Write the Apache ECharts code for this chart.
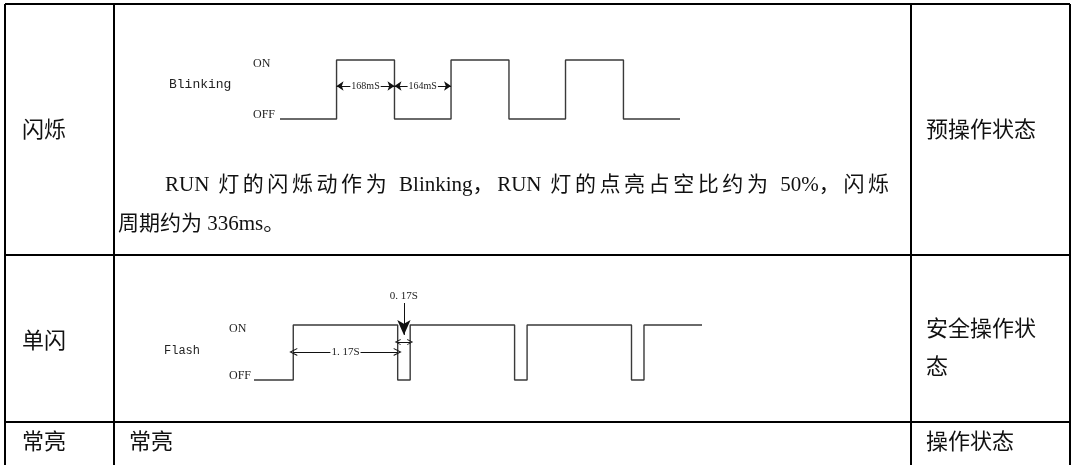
<!DOCTYPE html>
<html><head><meta charset="utf-8">
<script src="https://cdn.jsdelivr.net/npm/echarts@6/dist/echarts.min.js"></script>
<style>html,body{margin:0;padding:0;background:#fff}#c{width:1075px;height:465px}</style>
</head><body><div id="c"></div>
<script>
// ---- data ----
const rowLabels = ['闪烁', '单闪', '常亮'];
const stateLabels = ['预操作状态', '安全操作状\n态', '操作状态'];
const steadyText = '常亮';
const noteLines = ['RUN 灯的闪烁动作为 Blinking，RUN 灯的点亮占空比约为 50%，闪烁', '周期约为 336ms。'];
const levelLabels = ['OFF', 'ON'];
// Blinking waveform (ms): edges and state held between consecutive edges
const blinkEdges = [0, 164, 332, 496, 664, 828, 996, 1160];
const blinkStates = [0, 1, 0, 1, 0, 1, 0];
const blinkSpanFrom = [164, 332];
const blinkSpanTo = [332, 496];
const blinkSpanText = ['168mS', '164mS'];
const blinkSpanLevel = 0.56;
// Flash waveform (s)
const flashEdges = [0, 0.44, 1.61, 1.75, 2.92, 3.06, 4.23, 4.37, 5.02];
const flashStates = [0, 1, 0, 1, 0, 1, 0, 1];
const flashOnText = '1. 17S';
const flashOffText = '0. 17S';

function stepPoints(edges, states) {
  const pts = [];
  for (let i = 0; i < states.length; i++) {
    pts.push([edges[i], states[i]]);
    pts.push([edges[i + 1], states[i]]);
  }
  return pts;
}

const chev = 'path://M5,0 L10,10 L8.6,10 L5,2.8 L1.4,10 L0,10 Z';
const waveColor = '#3a3a3a';
const serif = "'Liberation Serif', 'Noto Sans CJK SC'";
const cellFont = "'Liberation Serif', 'Noto Sans CJK SC'";

// justify a line: extra space goes after CJK characters and spaces only
function isStretch(c) { return c === ' ' || c.charCodeAt(0) > 0x2e80; }
function justify(text, size, target) {
  const cv = document.createElement('canvas').getContext('2d');
  cv.font = 'normal normal ' + size + 'px ' + cellFont;
  const chars = Array.from(text);
  const w = cv.measureText(text).width;
  let n = 0;
  chars.forEach((c, i) => { if (i < chars.length - 1 && isStretch(c)) n++; });
  const extra = Math.max(0, (target - w) / Math.max(1, n));
  // group runs: stretched chars individually, others as runs
  let str = '', run = '';
  chars.forEach((c, i) => {
    if (i < chars.length - 1 && isStretch(c)) {
      if (run) { str += '{k|' + run + '}'; run = ''; }
      str += '{j|' + c + '}';
    } else run += c;
  });
  if (run) str += '{k|' + run + '}';
  return { str, extra };
}

const chart = echarts.init(document.getElementById('c'), null, { renderer: 'canvas' });

const j1 = justify(noteLines[0], 21, 724);

function levelAxis(grid, margin, max) {
  return {
    type: 'value', gridIndex: grid, min: 0, max: max, interval: 1,
    axisLine: { show: false }, axisTick: { show: false }, splitLine: { show: false },
    axisLabel: {
      align: 'left', margin: margin, color: '#222', fontFamily: serif, fontSize: 12,
      showMaxLabel: true,
      formatter: v => (v === 1 ? '{a|' + levelLabels[1] + '}' : (v === 0 ? '{b|' + levelLabels[0] + '}' : '')),
      rich: {
        a: { fontFamily: serif, fontSize: 12, color: '#222', padding: [8, 0, 0, 0] },
        b: { fontFamily: serif, fontSize: 12, color: '#222', padding: [0, 0, 8, 0] }
      }
    }
  };
}

const tableLines = [
  [5, 4, 1070, 4], [5, 4, 5, 465], [114, 4, 114, 465], [911, 4, 911, 465], [1070, 4, 1070, 465],
  [5, 255, 1070, 255], [5, 422, 1070, 422]
];
const graphics = tableLines.map(l => ({
  type: 'line', silent: true,
  shape: { x1: l[0], y1: l[1], x2: l[2], y2: l[3] },
  style: { stroke: '#000', lineWidth: 2 }
}));
const rowY = [131, 342, 443];
rowLabels.forEach((t, i) => graphics.push({
  type: 'text', left: 22, top: rowY[i] - 11,
  style: { text: t, font: 'normal 22px ' + cellFont, fill: '#111' }
}));
const stateTop = [131 - 11, 330 - 19, 443 - 11];
stateLabels.forEach((t, i) => graphics.push({
  type: 'text', left: 926, top: stateTop[i],
  style: t.indexOf('\n') >= 0
    ? { text: t, font: 'normal 22px ' + cellFont, fill: '#111', lineHeight: 38 }
    : { text: t, font: 'normal 22px ' + cellFont, fill: '#111' }
}));
graphics.push({ type: 'text', left: 129, top: 443 - 11, style: { text: steadyText, font: 'normal 22px ' + cellFont, fill: '#111' } });
graphics.push({ type: 'text', left: 169, top: 78, style: { text: 'Blinking', font: 'normal 13px "Liberation Mono"', fill: '#222' } });
graphics.push({ type: 'text', left: 164, top: 345, style: { text: 'Flash', font: 'normal 12px "Liberation Mono"', fill: '#222' } });
graphics.push({
  type: 'text', left: 165, top: 175,
  style: {
    text: j1.str, font: 'normal 21px ' + cellFont, fill: '#111',
    rich: {
      j: { fontSize: 21, fontFamily: cellFont, fill: '#111', padding: [0, j1.extra, 0, 0] },
      k: { fontSize: 21, fontFamily: cellFont, fill: '#111' }
    }
  }
});
graphics.push({ type: 'text', left: 118, top: 214, style: { text: noteLines[1], font: 'normal 21px ' + cellFont, fill: '#111' } });

const midLabel = { position: 'middle', verticalAlign: 'middle', distance: 0, backgroundColor: '#fff', padding: [0, 1] };

const option = {
  animation: false,
  backgroundColor: '#fff',
  grid: [
    { left: 280, top: 60, width: 400, height: 59 },
    { left: 254, top: 297.5, width: 448, height: 82.5 }
  ],
  xAxis: [
    { type: 'value', gridIndex: 0, min: 0, max: blinkEdges[blinkEdges.length - 1], show: false },
    { type: 'value', gridIndex: 1, min: 0, max: flashEdges[flashEdges.length - 1], show: false }
  ],
  yAxis: [levelAxis(0, 27, 1), levelAxis(1, 25, 1.5)],
  graphic: graphics,
  series: [
    {
      type: 'line', xAxisIndex: 0, yAxisIndex: 0, clip: false, symbol: 'none',
      data: stepPoints(blinkEdges, blinkStates),
      lineStyle: { color: waveColor, width: 1.4 },
      markLine: {
        silent: true, animation: false,
        symbol: ['arrow', 'arrow'], symbolSize: 7,
        lineStyle: { color: '#111', width: 1, type: 'solid' },
        label: Object.assign({ show: true, fontFamily: serif, fontSize: 10, color: '#222' }, midLabel),
        data: blinkSpanFrom.map((f, i) => [
          { coord: [f, blinkSpanLevel], label: { formatter: blinkSpanText[i] } },
          { coord: [blinkSpanTo[i], blinkSpanLevel] }
        ])
      }
    },
    {
      type: 'line', xAxisIndex: 1, yAxisIndex: 1, clip: false, symbol: 'none',
      data: stepPoints(flashEdges, flashStates),
      lineStyle: { color: waveColor, width: 1.4 },
      markLine: {
        silent: true, animation: false,
        lineStyle: { color: '#111', width: 1, type: 'solid' },
        label: { show: true, fontFamily: serif, fontSize: 11, color: '#222' },
        data: [
          [
            { coord: [flashEdges[1], 0.51], symbol: chev, symbolSize: 8,
              label: Object.assign({ formatter: flashOnText }, midLabel) },
            { coord: [flashEdges[2], 0.51], symbol: chev, symbolSize: 8 }
          ],
          [
            { coord: [flashEdges[2], 0.69], symbol: chev, symbolSize: 6, label: { show: false } },
            { coord: [flashEdges[3], 0.69], symbol: chev, symbolSize: 6 }
          ],
          [
            { coord: [(flashEdges[2] + flashEdges[3]) / 2, 1.4], symbol: 'none',
              label: { position: 'start', distance: 1, formatter: flashOffText } },
            { coord: [(flashEdges[2] + flashEdges[3]) / 2, 0.82], symbol: 'arrow', symbolSize: [10, 15] }
          ]
        ]
      }
    }
  ]
};
chart.setOption(option);
</script></body></html>
